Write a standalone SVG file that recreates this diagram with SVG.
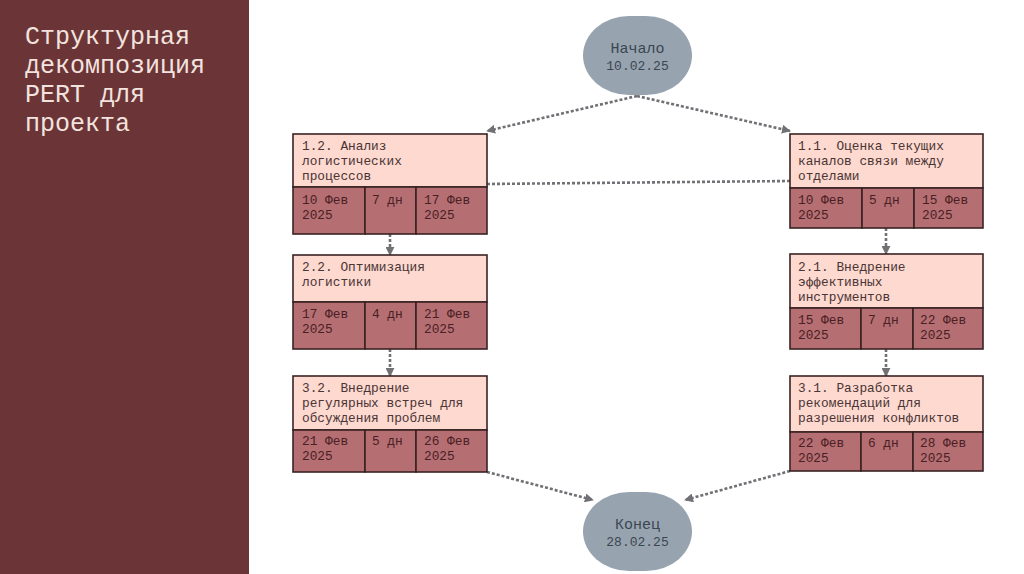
<svg xmlns="http://www.w3.org/2000/svg" width="1024" height="574" viewBox="0 0 1024 574">
<defs>
<style>
.mono{font-family:"Liberation Mono","DejaVu Sans Mono",monospace}
.title{font-size:25px;fill:#f3e3de}
.nt{font-size:14px;fill:#3c4650}
.t{font-size:12.8px;fill:#4a3434}
.c{font-size:12.8px;fill:#4a2024}
.top{fill:#fdd9cf;stroke:#3a2222;stroke-width:1.6}
.bot{fill:#b56f73;stroke:#3a2222;stroke-width:1.6}
.oval{fill:#97a4b0}
.con{fill:none;stroke:#707075;stroke-width:2.6;stroke-dasharray:3 2}
</style>
<marker id="ah" viewBox="0 0 10 10" refX="9" refY="5" markerWidth="9" markerHeight="9" markerUnits="userSpaceOnUse" orient="auto">
<path d="M0,0 L10,5 L0,10 Z" fill="#707075"/>
</marker>
</defs>
<rect width="1024" height="574" fill="#ffffff"/>
<rect x="0" y="0" width="249" height="574" fill="#6b3538"/>
<g id="title" class="mono title">
<text x="25" y="44">Структурная</text>
<text x="25" y="73">декомпозиция</text>
<text x="25" y="102">PERT для</text>
<text x="25" y="131">проекта</text>
</g>
<g id="connectors">
<line class="con" x1="637" y1="96" x2="487" y2="131" marker-end="url(#ah)"/>
<line class="con" x1="637" y1="96" x2="790" y2="131" marker-end="url(#ah)"/>
<line class="con" x1="487" y1="184" x2="790" y2="181"/>
<line class="con" x1="390" y1="234" x2="390" y2="255" marker-end="url(#ah)"/>
<line class="con" x1="886" y1="228" x2="886" y2="254" marker-end="url(#ah)"/>
<line class="con" x1="390" y1="349" x2="390" y2="376" marker-end="url(#ah)"/>
<line class="con" x1="886" y1="349" x2="886" y2="376" marker-end="url(#ah)"/>
<line class="con" x1="487" y1="472" x2="593" y2="500" marker-end="url(#ah)"/>
<line class="con" x1="790" y1="471" x2="685" y2="500" marker-end="url(#ah)"/>
</g>
<g id="start">
<rect class="oval" x="583" y="16" width="109" height="79" rx="46" ry="40"/>
<text class="mono nt" x="637.5" y="53" text-anchor="middle" style="font-size:15px">Начало</text>
<text class="mono nt" x="637.5" y="70" text-anchor="middle" style="font-size:13px">10.02.25</text>
</g>
<g id="end">
<rect class="oval" x="583" y="492" width="109" height="79" rx="46" ry="40"/>
<text class="mono nt" x="637.5" y="529" text-anchor="middle" style="font-size:15px">Конец</text>
<text class="mono nt" x="637.5" y="546" text-anchor="middle" style="font-size:13px">28.02.25</text>
</g>
<g id="n12">
<rect class="top" x="293" y="134" width="194" height="53"/>
<rect class="bot" x="293" y="187" width="72" height="47"/>
<rect class="bot" x="365" y="187" width="51" height="47"/>
<rect class="bot" x="416" y="187" width="71" height="47"/>
<text class="mono t" x="302" y="150">1.2. Анализ</text>
<text class="mono t" x="302" y="165">логистических</text>
<text class="mono t" x="302" y="180">процессов</text>
<text class="mono c" x="302" y="204">10 Фев</text>
<text class="mono c" x="302" y="219">2025</text>
<text class="mono c" x="372" y="204">7 дн</text>
<text class="mono c" x="424" y="204">17 Фев</text>
<text class="mono c" x="424" y="219">2025</text>
</g>
<g id="n11">
<rect class="top" x="790" y="134" width="193" height="54"/>
<rect class="bot" x="790" y="188" width="72" height="40"/>
<rect class="bot" x="862" y="188" width="52" height="40"/>
<rect class="bot" x="914" y="188" width="69" height="40"/>
<text class="mono t" x="798" y="150">1.1. Оценка текущих</text>
<text class="mono t" x="798" y="165">каналов связи между</text>
<text class="mono t" x="798" y="180">отделами</text>
<text class="mono c" x="798" y="204">10 Фев</text>
<text class="mono c" x="798" y="219">2025</text>
<text class="mono c" x="869" y="204">5 дн</text>
<text class="mono c" x="922" y="204">15 Фев</text>
<text class="mono c" x="922" y="219">2025</text>
</g>
<g id="n22">
<rect class="top" x="293" y="255" width="194" height="47"/>
<rect class="bot" x="293" y="302" width="72" height="47"/>
<rect class="bot" x="365" y="302" width="51" height="47"/>
<rect class="bot" x="416" y="302" width="71" height="47"/>
<text class="mono t" x="302" y="271">2.2. Оптимизация</text>
<text class="mono t" x="302" y="286">логистики</text>
<text class="mono c" x="302" y="318">17 Фев</text>
<text class="mono c" x="302" y="333">2025</text>
<text class="mono c" x="372" y="318">4 дн</text>
<text class="mono c" x="424" y="318">21 Фев</text>
<text class="mono c" x="424" y="333">2025</text>
</g>
<g id="n21">
<rect class="top" x="790" y="254" width="193" height="54"/>
<rect class="bot" x="790" y="308" width="71" height="41"/>
<rect class="bot" x="861" y="308" width="52" height="41"/>
<rect class="bot" x="913" y="308" width="70" height="41"/>
<text class="mono t" x="798" y="271">2.1. Внедрение</text>
<text class="mono t" x="798" y="286">эффективных</text>
<text class="mono t" x="798" y="301">инструментов</text>
<text class="mono c" x="798" y="324">15 Фев</text>
<text class="mono c" x="798" y="339">2025</text>
<text class="mono c" x="868" y="324">7 дн</text>
<text class="mono c" x="920" y="324">22 Фев</text>
<text class="mono c" x="920" y="339">2025</text>
</g>
<g id="n32">
<rect class="top" x="293" y="376" width="194" height="54"/>
<rect class="bot" x="293" y="430" width="72" height="42"/>
<rect class="bot" x="365" y="430" width="51" height="42"/>
<rect class="bot" x="416" y="430" width="71" height="42"/>
<text class="mono t" x="302" y="392">3.2. Внедрение</text>
<text class="mono t" x="302" y="407">регулярных встреч для</text>
<text class="mono t" x="302" y="422">обсуждения проблем</text>
<text class="mono c" x="302" y="445">21 Фев</text>
<text class="mono c" x="302" y="460">2025</text>
<text class="mono c" x="372" y="445">5 дн</text>
<text class="mono c" x="424" y="445">26 Фев</text>
<text class="mono c" x="424" y="460">2025</text>
</g>
<g id="n31">
<rect class="top" x="790" y="376" width="193" height="56"/>
<rect class="bot" x="790" y="432" width="71" height="39"/>
<rect class="bot" x="861" y="432" width="52" height="39"/>
<rect class="bot" x="913" y="432" width="70" height="39"/>
<text class="mono t" x="798" y="392">3.1. Разработка</text>
<text class="mono t" x="798" y="407">рекомендаций для</text>
<text class="mono t" x="798" y="422">разрешения конфликтов</text>
<text class="mono c" x="798" y="447">22 Фев</text>
<text class="mono c" x="798" y="462">2025</text>
<text class="mono c" x="868" y="447">6 дн</text>
<text class="mono c" x="920" y="447">28 Фев</text>
<text class="mono c" x="920" y="462">2025</text>
</g>
</svg>
